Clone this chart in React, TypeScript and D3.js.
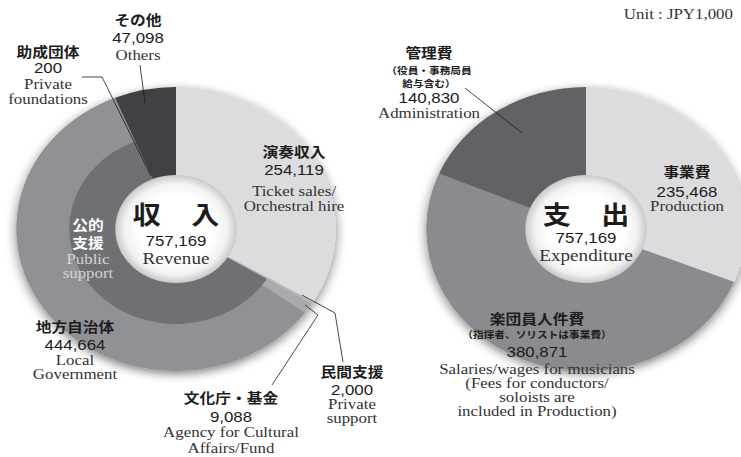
import React from "react";
import * as d3 from "d3";

const W = 741;
const H = 457;
const SX = 1.125; // horizontal stretch seen in the reference

// ---------- data ----------
const revenueCategories = ["演奏収入", "民間支援", "文化庁・基金", "地方自治体", "助成団体", "その他"];
const revenueValues = [254119, 2000, 9088, 444664, 200, 47098];
const revenueColors = ["#dcdcde", "#b7b8bb", "#a9aaad", "#909195", "#5a5b5f", "#404144"];
const revenueEnglish = [
  ["Ticket sales/", "Orchestral hire"],
  ["Private", "support"],
  ["Agency for Cultural", "Affairs/Fund"],
  ["Local", "Government"],
  ["Private", "foundations"],
  ["Others"],
];
const publicSupportIdx = [2, 3];
const publicSupportLabel = ["公的", "支援"];
const publicSupportEnglish = ["Public", "support"];
const publicSupportColor = "#6e6f73";

const expenditureCategories = ["事業費", "楽団員人件費", "管理費"];
const expenditureValues = [235468, 380871, 140830];
const expenditureColors = ["#dcdcde", "#8a8b8f", "#616266"];
const expenditureNotes = [[], ["（指揮者、ソリストは事業費）"], ["（役員・事務局員", "給与含む）"]];
const expenditureEnglish = [
  ["Production"],
  ["Salaries/wages for musicians", "(Fees for conductors/", "soloists are", "included in Production)"],
  ["Administration"],
];

const revenueTitle = ["収", "入"];
const expenditureTitle = ["支", "出"];
const revenueTotalLabel = "Revenue";
const expenditureTotalLabel = "Expenditure";
const unitLabel = "Unit : JPY1,000";

const fmt = d3.format(",");

// ---------- layout ----------
const CY = 229;
const LCX = 176;
const RCX = 586;
const R_OUT = 142;
const R_MID = 95;
const R_IN = 54;

const JP = "'Noto Sans CJK JP', 'Noto Sans', sans-serif";
const NUM = "'Liberation Sans', Arial, sans-serif";
const EN = "'Liberation Serif', 'Times New Roman', serif";

type Kind = "jp" | "jps" | "num" | "en";
type Line = { t: string; y: number; k: Kind; fill?: string };

const styleFor = (k: Kind) => {
  switch (k) {
    case "jp":
      return { fontFamily: JP, fontSize: 14, fontWeight: 700, fill: "#1c1c1c" };
    case "jps":
      return { fontFamily: JP, fontSize: 9.5, fontWeight: 700, fill: "#1c1c1c" };
    case "num":
      return { fontFamily: NUM, fontSize: 15, fontWeight: 400, fill: "#1c1c1c" };
    default:
      return { fontFamily: EN, fontSize: 15, fontWeight: 400, fill: "#333" };
  }
};

function Label({ x, lines, anchor = "middle" }: { x: number; lines: Line[]; anchor?: string }) {
  return (
    <g transform={`translate(${x},0) scale(${SX},1)`}>
      {lines.map((l, i) => {
        const s = styleFor(l.k);
        return (
          <text
            key={i}
            x={0}
            y={l.y}
            textAnchor={anchor as any}
            style={{ fontFamily: s.fontFamily, fontSize: s.fontSize, fontWeight: s.fontWeight }}
            fill={l.fill ?? s.fill}
          >
            {l.t}
          </text>
        );
      })}
    </g>
  );
}

function stack(title: string[], notes: string[], value: number, en: string[], ys: number[]): Line[] {
  const out: Line[] = [];
  let i = 0;
  title.forEach((t) => out.push({ t, y: ys[i++], k: "jp" }));
  notes.forEach((t) => out.push({ t, y: ys[i++], k: "jps" }));
  out.push({ t: fmt(value), y: ys[i++], k: "num" });
  en.forEach((t) => out.push({ t, y: ys[i++], k: "en" }));
  return out;
}

export default function App() {
  const pie = d3
    .pie<number>()
    .sort(null)
    .value((d) => d)
    .startAngle(0)
    .endAngle(2 * Math.PI);
  const rev = pie(revenueValues);
  const exp = pie(expenditureValues);

  const arcFull = d3.arc<any>().innerRadius(R_IN - 2).outerRadius(R_OUT);
  const arcOuter = d3.arc<any>().innerRadius(R_MID).outerRadius(R_OUT);
  const arcInner = d3.arc<any>().innerRadius(R_IN - 2).outerRadius(R_MID);

  const pubStart = rev[publicSupportIdx[0]].startAngle;
  const pubEnd = rev[publicSupportIdx[publicSupportIdx.length - 1]].endAngle;

  const line = (pts: [number, number][]) => d3.line()(pts) as string;

  return (
    <svg width={W} height={H} style={{ position: "absolute", left: 0, top: 0, background: "#fff" }}>
      <defs>
        <filter id="shadow" x="-20%" y="-20%" width="140%" height="150%">
          <feGaussianBlur in="SourceAlpha" stdDeviation="5" />
          <feOffset dx="0" dy="3" result="b" />
          <feComponentTransfer>
            <feFuncA type="linear" slope="0.5" />
          </feComponentTransfer>
          <feMerge>
            <feMergeNode />
            <feMergeNode in="SourceGraphic" />
          </feMerge>
        </filter>
        <radialGradient id="hole" cx="50%" cy="50%" r="50%">
          <stop offset="0%" stopColor="#ffffff" />
          <stop offset="62%" stopColor="#ffffff" />
          <stop offset="85%" stopColor="#f1f1f1" />
          <stop offset="100%" stopColor="#c9c9cb" />
        </radialGradient>
      </defs>

      {/* Revenue donut */}
      <g transform={`translate(${LCX},${CY}) scale(${SX},1)`}>
        <g filter="url(#shadow)">
          {rev.map((a, i) =>
            publicSupportIdx.includes(i) ? (
              <path key={i} d={arcOuter(a) as string} fill={revenueColors[i]} />
            ) : (
              <path key={i} d={arcFull(a) as string} fill={revenueColors[i]} />
            )
          )}
          <path
            d={arcInner({ startAngle: pubStart, endAngle: pubEnd }) as string}
            fill={publicSupportColor}
          />
        </g>
        <circle r={R_IN} fill="url(#hole)" />
      </g>

      {/* Expenditure donut */}
      <g transform={`translate(${RCX},${CY}) scale(${SX},1)`}>
        <g filter="url(#shadow)">
          {exp.map((a, i) => (
            <path key={i} d={arcFull(a) as string} fill={expenditureColors[i]} />
          ))}
        </g>
        <circle r={R_IN} fill="url(#hole)" />
      </g>

      {/* leader lines */}
      <g stroke="#1a1a1a" strokeWidth={0.8} fill="none">
        <path d={line([[140, 65], [145, 103]])} />
        <path d={line([[82, 77], [102, 77], [151, 176]])} />
        <path d={line([[272, 385], [318, 315], [305, 305]])} />
        <path d={line([[343, 362], [335, 313], [302, 295]])} />
        <path d={line([[465, 88], [522, 133]])} />
      </g>

      {/* center titles */}
      <g transform={`translate(${LCX},0) scale(${SX},1)`}>
        <text x={-26} y={224} textAnchor="middle" style={{ fontFamily: JP, fontSize: 25, fontWeight: 700 }} fill="#1c1c1c">
          {revenueTitle[0]}
        </text>
        <text x={26} y={224} textAnchor="middle" style={{ fontFamily: JP, fontSize: 25, fontWeight: 700 }} fill="#1c1c1c">
          {revenueTitle[1]}
        </text>
        <text x={0} y={246} textAnchor="middle" style={{ fontFamily: NUM, fontSize: 15 }} fill="#1c1c1c">
          {fmt(d3.sum(revenueValues))}
        </text>
        <text x={0} y={264} textAnchor="middle" style={{ fontFamily: EN, fontSize: 17 }} fill="#333">
          {revenueTotalLabel}
        </text>
      </g>
      <g transform={`translate(${RCX},0) scale(${SX},1)`}>
        <text x={-26} y={224} textAnchor="middle" style={{ fontFamily: JP, fontSize: 25, fontWeight: 700 }} fill="#1c1c1c">
          {expenditureTitle[0]}
        </text>
        <text x={26} y={224} textAnchor="middle" style={{ fontFamily: JP, fontSize: 25, fontWeight: 700 }} fill="#1c1c1c">
          {expenditureTitle[1]}
        </text>
        <text x={0} y={243} textAnchor="middle" style={{ fontFamily: NUM, fontSize: 15 }} fill="#1c1c1c">
          {fmt(d3.sum(expenditureValues))}
        </text>
        <text x={0} y={261} textAnchor="middle" style={{ fontFamily: EN, fontSize: 17 }} fill="#333">
          {expenditureTotalLabel}
        </text>
      </g>

      {/* revenue labels */}
      <Label x={138} lines={stack([revenueCategories[5]], [], revenueValues[5], revenueEnglish[5], [25, 43, 60])} />
      <Label x={48} lines={stack([revenueCategories[4]], [], revenueValues[4], revenueEnglish[4], [57, 73, 89, 104])} />
      <Label x={294} lines={stack([revenueCategories[0]], [], revenueValues[0], revenueEnglish[0], [157, 175, 196, 211])} />
      <Label
        x={88}
        lines={[
          { t: publicSupportLabel[0], y: 230, k: "jp", fill: "#ffffff" },
          { t: publicSupportLabel[1], y: 248, k: "jp", fill: "#ffffff" },
          { t: publicSupportEnglish[0], y: 264, k: "en", fill: "#d4d4d6" },
          { t: publicSupportEnglish[1], y: 278, k: "en", fill: "#d4d4d6" },
        ]}
      />
      <Label x={75} lines={stack([revenueCategories[3]], [], revenueValues[3], revenueEnglish[3], [332, 350, 365, 379])} />
      <Label x={231} lines={stack([revenueCategories[2]], [], revenueValues[2], revenueEnglish[2], [403, 422, 437, 453])} />
      <Label x={352} lines={stack([revenueCategories[1]], [], revenueValues[1], revenueEnglish[1], [377, 395, 409, 423])} />

      {/* expenditure labels */}
      <Label x={429} lines={stack([expenditureCategories[2]], expenditureNotes[2], expenditureValues[2], expenditureEnglish[2], [58, 74, 87, 103, 118])} />
      <Label x={687} lines={stack([expenditureCategories[0]], expenditureNotes[0], expenditureValues[0], expenditureEnglish[0], [177, 197, 211])} />
      <Label x={537} lines={stack([expenditureCategories[1]], expenditureNotes[1], expenditureValues[1], expenditureEnglish[1], [324, 338, 357, 374, 388, 402, 416])} />

      {/* unit */}
      <g transform={`translate(733,0) scale(${SX},1)`}>
        <text x={0} y={19} textAnchor="end" style={{ fontFamily: EN, fontSize: 15 }} fill="#333">
          {unitLabel}
        </text>
      </g>
    </svg>
  );
}
